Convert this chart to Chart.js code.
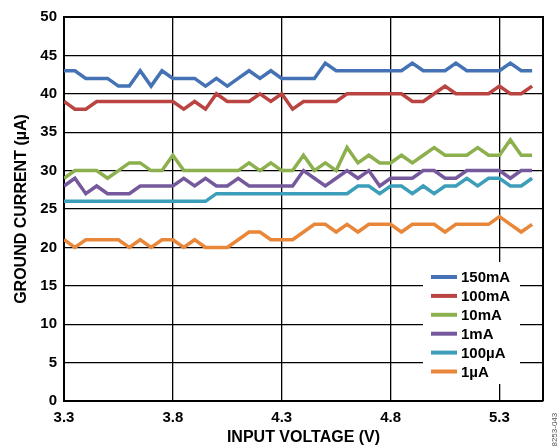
<!DOCTYPE html>
<html>
<head>
<meta charset="utf-8">
<script src="https://cdn.jsdelivr.net/npm/chart.js@4.4.1/dist/chart.umd.min.js"></script>
<style>
  html, body { margin: 0; background: #fff; }
  #wrap { width: 559px; height: 446px; }
</style>
</head>
<body>
<div id="wrap"><canvas id="chart"></canvas></div>
<script>
// input voltage (V)
const voltages = [
  3.30, 3.35, 3.40, 3.45, 3.50, 3.55, 3.60, 3.65, 3.70, 3.75, 3.80,
  3.85, 3.90, 3.95, 4.00, 4.05, 4.10, 4.15, 4.20, 4.25, 4.30, 4.35,
  4.40, 4.45, 4.50, 4.55, 4.60, 4.65, 4.70, 4.75, 4.80, 4.85, 4.90,
  4.95, 5.00, 5.05, 5.10, 5.15, 5.20, 5.25, 5.30, 5.35, 5.40, 5.45
]

// ground current (uA) per load
const load150mA = [
  43, 43, 42, 42, 42, 41, 41, 43, 41, 43, 42, 42, 42, 41, 42, 41, 42, 43, 42, 43, 42, 42,
  42, 42, 44, 43, 43, 43, 43, 43, 43, 43, 44, 43, 43, 43, 44, 43, 43, 43, 43, 44, 43, 43
]
const load100mA = [
  39, 38, 38, 39, 39, 39, 39, 39, 39, 39, 39, 38, 39, 38, 40, 39, 39, 39, 40, 39, 40, 38,
  39, 39, 39, 39, 40, 40, 40, 40, 40, 40, 39, 39, 40, 41, 40, 40, 40, 40, 41, 40, 40, 41
]
const load10mA = [
  29, 30, 30, 30, 29, 30, 31, 31, 30, 30, 32, 30, 30, 30, 30, 30, 30, 31, 30, 31, 30, 30,
  32, 30, 31, 30, 33, 31, 32, 31, 31, 32, 31, 32, 33, 32, 32, 32, 33, 32, 32, 34, 32, 32
]
const load1mA = [
  28, 29, 27, 28, 27, 27, 27, 28, 28, 28, 28, 29, 28, 29, 28, 28, 29, 28, 28, 28, 28, 28,
  30, 29, 28, 29, 30, 29, 30, 28, 29, 29, 29, 30, 30, 29, 29, 30, 30, 30, 30, 29, 30, 30
]
const load100uA = [
  26, 26, 26, 26, 26, 26, 26, 26, 26, 26, 26, 26, 26, 26, 27, 27, 27, 27, 27, 27, 27, 27,
  27, 27, 27, 27, 27, 28, 28, 27, 28, 28, 27, 28, 27, 28, 28, 29, 28, 29, 29, 28, 28, 29
]
const load1uA = [
  21, 20, 21, 21, 21, 21, 20, 21, 20, 21, 21, 20, 21, 20, 20, 20, 21, 22, 22, 21, 21, 21,
  22, 23, 23, 22, 23, 22, 23, 23, 23, 22, 23, 23, 23, 22, 23, 23, 23, 23, 24, 23, 22, 23
]

const seriesLabels = ['150mA', '100mA', '10mA', '1mA', '100µA', '1µA']
const seriesValues = [load150mA, load100mA, load10mA, load1mA, load100uA, load1uA]
const seriesColors = ['#4472b4', '#b94441', '#8db04e', '#75599c', '#3d9eba', '#e8873a']

const xTicks = [3.3, 3.8, 4.3, 4.8, 5.3]
const yTicks = [0, 5, 10, 15, 20, 25, 30, 35, 40, 45, 50]
const figureId = '08253-043'

Chart.defaults.font.family = 'Arial, "Liberation Sans", sans-serif'
Chart.defaults.font.weight = 'bold'
Chart.defaults.font.size = 15
Chart.defaults.color = '#000'

// top and right edge of the plot frame
const frame = {
  id: 'frame',
  afterDatasetsDraw: chart => {
    const { ctx, chartArea: a } = chart
    ctx.save()
    ctx.strokeStyle = '#000'
    ctx.lineWidth = 2
    ctx.beginPath()
    ctx.moveTo(a.left, a.top)
    ctx.lineTo(a.right, a.top)
    ctx.lineTo(a.right, a.bottom)
    ctx.stroke()
    ctx.restore()
  }
}

// legend box inside the plot, bottom right, plus the small figure number
const insideLegend = {
  id: 'insideLegend',
  afterDraw: chart => {
    const { ctx, chartArea: a } = chart
    const left = a.right - 120
    const top = a.top + 245
    ctx.save()
    ctx.fillStyle = '#fff'
    ctx.fillRect(left, top, 97, a.bottom - 17 - top)
    ctx.font = 'bold 15px Arial, "Liberation Sans", sans-serif'
    ctx.textBaseline = 'middle'
    chart.data.datasets.forEach((ds, i) => {
      const y = top + 15 + i * 18.9
      ctx.strokeStyle = ds.borderColor
      ctx.lineWidth = 4
      ctx.beginPath()
      ctx.moveTo(left + 8, y)
      ctx.lineTo(left + 34, y)
      ctx.stroke()
      ctx.fillStyle = '#000'
      ctx.fillText(ds.label, left + 38, y + 1)
    })

    ctx.translate(a.right + 12, a.bottom + 50)
    ctx.rotate(-Math.PI / 2)
    ctx.font = '8px Arial, "Liberation Sans", sans-serif'
    ctx.fillStyle = '#555'
    ctx.textAlign = 'left'
    ctx.fillText(figureId, 0, 0)
    ctx.restore()
  }
}

const datasets = seriesLabels.map((label, i) => ({
  label: label,
  data: voltages.map((v, j) => ({ x: v, y: seriesValues[i][j] })),
  borderColor: seriesColors[i],
  backgroundColor: seriesColors[i],
  borderWidth: 3.5,
  pointRadius: 0,
  tension: 0
}))

const context = document.getElementById('chart')
const myChart = new Chart(context, {
  type: 'line',
  data: { datasets: datasets },
  options: {
    responsive: true,
    maintainAspectRatio: false,
    animation: false,
    layout: { padding: { top: 17, right: 16, left: 0, bottom: 0 } },
    plugins: {
      legend: { display: false },
      tooltip: { enabled: false }
    },
    scales: {
      x: {
        type: 'linear',
        min: 3.3,
        max: 5.5,
        afterBuildTicks: scale => {
          scale.ticks = xTicks.map(v => ({ value: v }))
        },
        afterFit: scale => {
          scale.height = 45
        },
        ticks: {
          padding: 8,
          maxRotation: 0,
          callback: v => v.toFixed(1)
        },
        grid: { color: '#000', lineWidth: 1.3, drawTicks: false },
        border: { color: '#000', width: 2 },
        title: {
          display: true,
          text: 'INPUT VOLTAGE (V)',
          font: { size: 16, weight: 'bold', lineHeight: 1 },
          padding: { top: 0, bottom: 0 }
        }
      },
      y: {
        min: 0,
        max: 50,
        afterBuildTicks: scale => {
          scale.ticks = yTicks.map(v => ({ value: v }))
        },
        afterFit: scale => {
          scale.width = 64
        },
        ticks: { padding: 7 },
        grid: { color: '#000', lineWidth: 1.3, drawTicks: false },
        border: { color: '#000', width: 2 },
        title: {
          display: true,
          text: 'GROUND CURRENT (µA)',
          font: { size: 16, weight: 'bold', lineHeight: 1.2 },
          padding: { top: 12, bottom: 0 }
        }
      }
    }
  },
  plugins: [frame, insideLegend]
})
</script>
</body>
</html>
